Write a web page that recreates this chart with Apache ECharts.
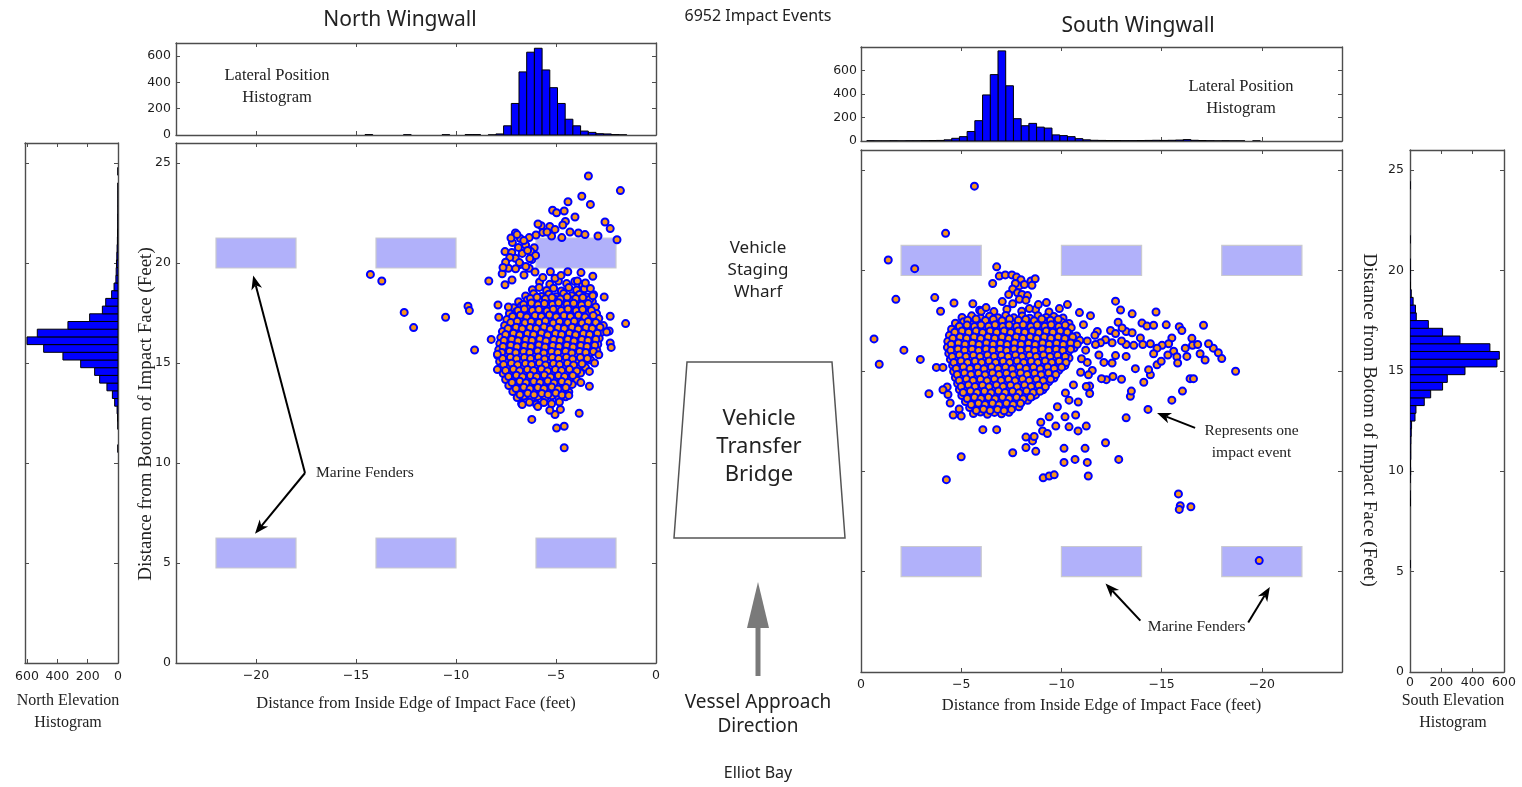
<!DOCTYPE html>
<html>
<head>
<meta charset="utf-8">
<script src="https://cdn.jsdelivr.net/npm/echarts@6/dist/echarts.min.js"></script>
<style>
html,body{margin:0;padding:0;background:#fff;}
#chart{width:1522px;height:787px;}
</style>
</head>
<body>
<div id="chart"></div>
<script>
// ---------- histogram bins (feet) and counts ----------
const binW = 0.385;
const northLatStart = -14.55;
const northLatCounts = [3,0,0,0,0,2,0,0,0,0,2,0,0,3,3,0,1,8,70,240,480,630,660,495,360,240,120,70,30,20,10,8,3,1];
const northElevStart = 10.53;
const northElevCounts = [1,0,0,1,3,6,22,37,73,121,154,246,363,490,600,532,330,187,103,81,42,26,14,12,10,8,6,4,3,2,2,1,1,1,1,0,1];
const southLatStart = -20.31;
const southLatCounts = [0,1,0,1,1,2,1,2,4,6,12,8,6,5,6,5,4,3,3,4,4,5,6,10,20,37,46,52,110,118,150,130,190,470,767,565,392,173,81,37,23,10,5,4,3,2,2,1,2,1,1,2];
const southElevStart = 5.185;
const southElevCounts = [1,0,0,0,0,0,0,0,3,1,0,1,4,3,5,5,6,8,10,32,38,91,132,208,238,351,555,570,510,319,208,117,40,35,20,8,3,1,2,1,0,0,1,0,0,0,0,0,0,1];

// ---------- fender outlines [x0, x1, y0, y1] ----------
const northFenders = [[-22,-18,19.75,21.25],[-14,-10,19.75,21.25],[-6,-2,19.75,21.25],[-22,-18,4.75,6.25],[-14,-10,4.75,6.25],[-6,-2,4.75,6.25]];
const southFenders = [[-2,-6,19.75,21.25],[-10,-14,19.75,21.25],[-18,-22,19.75,21.25],[-2,-6,4.75,6.25],[-10,-14,4.75,6.25],[-18,-22,4.75,6.25]];

// ---------- impact events, north wingwall [lateral ft, elevation ft] ----------
const northCore = [
[-5.82,19.05],[-5.31,18.94],[-4.88,19.1],[-4.47,18.97],[-4.06,19.08],[-3.68,18.92],
[-6.18,18.66],[-5.84,18.78],[-5.47,18.63],[-5.12,18.74],[-4.73,18.6],[-4.36,18.77],[-3.97,18.65],[-3.58,18.71],
[-6.52,18.35],[-6.12,18.46],[-5.73,18.33],[-5.36,18.44],[-4.98,18.31],[-4.62,18.47],[-4.21,18.36],[-3.83,18.43],[-3.47,18.3],[-3.12,18.41],
[-6.87,18.06],[-6.43,18.15],[-6.08,18.02],[-5.77,18.13],[-5.38,18.04],[-5.03,18.17],[-4.66,18.05],[-4.28,18.12],[-3.92,18.0],[-3.57,18.14],[-3.18,18.06],
[-7.12,17.76],[-6.74,17.85],[-6.38,17.72],[-6.02,17.83],[-5.66,17.74],[-5.28,17.86],[-4.93,17.75],[-4.57,17.82],[-4.18,17.71],[-3.84,17.84],[-3.46,17.77],[-3.02,17.8],
[-7.33,17.48],[-6.98,17.56],[-6.62,17.43],[-6.24,17.52],[-5.88,17.45],[-5.53,17.57],[-5.17,17.44],[-4.79,17.53],[-4.44,17.46],[-4.08,17.58],[-3.72,17.45],[-3.34,17.54],[-2.97,17.47],
[-7.46,17.17],[-7.08,17.24],[-6.76,17.13],[-6.38,17.22],[-6.04,17.15],[-5.69,17.26],[-5.33,17.12],[-4.98,17.21],[-4.62,17.16],[-4.24,17.25],[-3.89,17.11],[-3.56,17.22],[-3.18,17.14],[-2.86,17.23],
[-7.57,16.88],[-7.19,16.95],[-6.84,16.84],[-6.51,16.93],[-6.13,16.86],[-5.79,16.97],[-5.44,16.83],[-5.08,16.94],[-4.74,16.87],[-4.38,16.96],[-4.03,16.85],[-3.71,16.92],[-3.32,16.84],[-2.96,16.95],[-2.63,16.87],
[-7.68,16.57],[-7.34,16.65],[-6.98,16.54],[-6.62,16.63],[-6.26,16.56],[-5.91,16.66],[-5.54,16.53],[-5.21,16.62],[-4.84,16.55],[-4.49,16.64],[-4.13,16.52],[-3.79,16.61],[-3.44,16.57],[-3.08,16.66],[-2.74,16.54],
[-7.76,16.27],[-7.42,16.35],[-7.04,16.24],[-6.71,16.33],[-6.33,16.26],[-5.99,16.36],[-5.64,16.23],[-5.28,16.32],[-4.96,16.25],[-4.58,16.34],[-4.24,16.22],[-3.88,16.31],[-3.54,16.27],[-3.19,16.36],[-2.84,16.24],
[-7.81,15.97],[-7.46,16.05],[-7.09,15.94],[-6.76,16.03],[-6.41,15.96],[-6.04,16.06],[-5.71,15.93],[-5.34,16.02],[-5.01,15.95],[-4.64,16.04],[-4.31,15.92],[-3.94,16.01],[-3.61,15.97],[-3.24,16.06],[-2.91,15.94],
[-7.86,15.67],[-7.51,15.75],[-7.14,15.64],[-6.79,15.73],[-6.44,15.66],[-6.11,15.76],[-5.74,15.63],[-5.41,15.72],[-5.04,15.65],[-4.71,15.74],[-4.34,15.62],[-4.01,15.71],[-3.64,15.67],[-3.31,15.76],[-2.96,15.64],
[-7.91,15.37],[-7.54,15.45],[-7.21,15.34],[-6.84,15.43],[-6.51,15.36],[-6.14,15.46],[-5.81,15.33],[-5.44,15.42],[-5.11,15.35],[-4.74,15.44],[-4.41,15.32],[-4.04,15.41],[-3.71,15.37],[-3.36,15.45],
[-7.82,15.07],[-7.44,15.15],[-7.11,15.04],[-6.74,15.13],[-6.41,15.06],[-6.04,15.16],[-5.71,15.03],[-5.34,15.12],[-5.01,15.05],[-4.64,15.14],[-4.31,15.02],[-3.94,15.11],[-3.61,15.07],[-3.27,15.15],
[-7.76,14.77],[-7.39,14.85],[-7.06,14.74],[-6.69,14.83],[-6.36,14.76],[-5.99,14.86],[-5.66,14.73],[-5.29,14.82],[-4.96,14.75],[-4.59,14.84],[-4.26,14.72],[-3.89,14.81],[-3.52,14.77],
[-7.64,14.47],[-7.31,14.55],[-6.94,14.44],[-6.61,14.53],[-6.24,14.46],[-5.91,14.56],[-5.54,14.43],[-5.21,14.52],[-4.84,14.45],[-4.51,14.54],[-4.14,14.42],[-3.77,14.5],
[-7.52,14.17],[-7.14,14.25],[-6.81,14.14],[-6.44,14.23],[-6.11,14.16],[-5.74,14.26],[-5.41,14.13],[-5.04,14.22],[-4.71,14.15],[-4.34,14.24],[-3.96,14.14],
[-7.36,13.87],[-6.99,13.95],[-6.66,13.84],[-6.29,13.93],[-5.96,13.86],[-5.59,13.96],[-5.26,13.83],[-4.89,13.92],[-4.56,13.85],[-4.19,13.93],
[-7.16,13.57],[-6.79,13.65],[-6.46,13.54],[-6.09,13.63],[-5.76,13.56],[-5.39,13.66],[-5.06,13.53],[-4.69,13.62],[-4.36,13.55],
[-6.94,13.27],[-6.61,13.35],[-6.24,13.24],[-5.91,13.33],[-5.54,13.26],[-5.21,13.36],[-4.86,13.23],[-4.52,13.31],
[-6.72,12.97],[-6.33,13.04],[-5.98,12.94],[-5.61,13.02],[-5.22,12.96],[-4.83,13.05]
];
// denser centre of the north cluster
const northInner = [
[-6.28,18.22],[-5.95,18.29],[-5.53,18.21],[-5.2,18.27],[-4.78,18.2],[-4.44,18.3],[-4.01,18.23],[-3.66,18.28],[-3.31,18.19],
[-6.62,17.93],[-6.23,18.0],[-5.9,17.91],[-5.58,17.98],[-5.18,17.92],[-4.87,18.01],[-4.45,17.94],[-4.12,17.99],[-3.72,17.9],[-3.39,17.97],
[-6.9,17.62],[-6.58,17.7],[-6.18,17.63],[-5.86,17.68],[-5.45,17.6],[-5.14,17.69],[-4.74,17.62],[-4.4,17.7],[-3.99,17.61],[-3.67,17.68],[-3.23,17.63],
[-7.17,17.33],[-6.78,17.39],[-6.46,17.3],[-6.05,17.37],[-5.73,17.32],[-5.33,17.4],[-4.99,17.31],[-4.6,17.38],[-4.28,17.33],[-3.88,17.39],[-3.55,17.3],[-3.14,17.37],
[-7.26,17.02],[-6.94,17.09],[-6.55,17.01],[-6.24,17.08],[-5.85,17.03],[-5.53,17.1],[-5.14,17.0],[-4.82,17.07],[-4.41,17.02],[-4.09,17.09],[-3.7,17.0],[-3.39,17.08],[-3.01,17.03],
[-7.4,16.72],[-7.0,16.79],[-6.69,16.71],[-6.3,16.78],[-5.99,16.73],[-5.6,16.8],[-5.29,16.7],[-4.9,16.77],[-4.59,16.72],[-4.2,16.79],[-3.89,16.7],[-3.5,16.78],[-3.19,16.73],[-2.8,16.79],
[-7.52,16.42],[-7.13,16.49],[-6.82,16.4],[-6.43,16.47],[-6.12,16.43],[-5.73,16.5],[-5.42,16.4],[-5.03,16.48],[-4.72,16.42],[-4.33,16.49],[-4.02,16.41],[-3.63,16.47],[-3.32,16.43],[-2.93,16.49],
[-7.6,16.12],[-7.21,16.19],[-6.9,16.11],[-6.51,16.18],[-6.2,16.13],[-5.81,16.2],[-5.5,16.1],[-5.11,16.17],[-4.8,16.12],[-4.41,16.19],[-4.1,16.1],[-3.71,16.18],[-3.4,16.13],[-3.01,16.19],
[-7.65,15.82],[-7.26,15.89],[-6.95,15.81],[-6.56,15.88],[-6.25,15.83],[-5.86,15.9],[-5.55,15.8],[-5.16,15.87],[-4.85,15.82],[-4.46,15.89],[-4.15,15.8],[-3.76,15.88],[-3.45,15.83],[-3.06,15.89],
[-7.71,15.52],[-7.32,15.59],[-7.01,15.51],[-6.62,15.58],[-6.31,15.53],[-5.92,15.6],[-5.61,15.5],[-5.22,15.57],[-4.91,15.52],[-4.52,15.59],[-4.21,15.5],[-3.82,15.58],[-3.51,15.53],[-3.13,15.58],
[-7.67,15.22],[-7.28,15.29],[-6.97,15.21],[-6.58,15.28],[-6.27,15.23],[-5.88,15.3],[-5.57,15.2],[-5.18,15.27],[-4.87,15.22],[-4.48,15.29],[-4.17,15.2],[-3.78,15.28],[-3.43,15.23],
[-7.62,14.92],[-7.23,14.99],[-6.92,14.91],[-6.53,14.98],[-6.22,14.93],[-5.83,15.0],[-5.52,14.9],[-5.13,14.97],[-4.82,14.92],[-4.43,14.99],[-4.12,14.9],[-3.7,14.96],
[-7.52,14.62],[-7.13,14.69],[-6.82,14.61],[-6.43,14.68],[-6.12,14.63],[-5.73,14.7],[-5.42,14.6],[-5.03,14.67],[-4.72,14.62],[-4.33,14.69],[-3.96,14.6],
[-7.37,14.32],[-6.98,14.39],[-6.67,14.31],[-6.28,14.38],[-5.97,14.33],[-5.58,14.4],[-5.27,14.3],[-4.88,14.37],[-4.57,14.32],[-4.16,14.38],
[-7.2,14.02],[-6.81,14.09],[-6.5,14.01],[-6.11,14.08],[-5.8,14.03],[-5.41,14.1],[-5.1,14.0],[-4.71,14.07],[-4.4,14.02],
[-7.0,13.72],[-6.61,13.79],[-6.3,13.71],[-5.91,13.78],[-5.6,13.73],[-5.21,13.8],[-4.9,13.7],[-4.51,13.77],
[-6.8,13.42],[-6.41,13.49],[-6.1,13.41],[-5.71,13.48],[-5.4,13.43],[-5.01,13.5],[-4.7,13.4]
];
const northSparse = [
[-3.38,24.35],[-1.78,23.62],[-3.71,23.34],[-3.28,22.93],[-4.40,23.06],[-5.17,22.64],[-4.97,22.51],[-4.59,22.6],[-4.53,22.08],[-4.66,21.9],
[-2.55,22.05],[-2.29,21.72],[-3.88,21.5],[-1.95,21.16],[-5.31,21.83],[-5.74,21.86],[-5.66,21.53],[-6.0,21.4],[-5.22,21.35],[-4.71,21.27],
[-6.34,21.27],[-6.78,21.22],[-7.03,21.5],[-6.52,20.9],[-6.09,20.76],[-7.55,20.57],[-7.21,20.53],[-7.03,20.24],[-6.69,20.48],[-6.26,20.57],
[-6.21,20.17],[-7.38,19.74],[-6.78,19.93],[-6.34,19.74],[-7.69,19.46],[-7.55,18.91],[-8.36,19.1],[-5.28,19.56],[-4.41,19.56],[-5.66,19.28],
[-5.05,19.24],[-3.16,19.34],[-3.53,19.0],[-3.93,19.1],[-3.28,18.73],[-3.16,18.36],[-2.59,18.3],[-7.38,17.8],[-7.9,17.9],[-7.86,17.29],
[-2.29,17.34],[-2.34,16.6],[-1.52,16.97],[-2.47,16.55],[-2.29,16.0],[-2.24,15.78],[-2.86,15.41],[-3.07,15.0],[-3.33,14.58],[-3.33,13.84],
[-3.76,14.02],[-8.24,16.18],[-7.93,15.44],[-7.93,14.67],[-9.07,15.65],[-9.4,17.84],[-9.33,17.62],[-10.52,17.29],[-12.59,17.53],[-12.12,16.77],
[-13.71,19.1],[-14.28,19.43],[-6.21,12.18],[-4.97,11.75],[-4.59,11.84],[-4.59,10.76],[-3.84,12.49],[-5.05,12.42],[-4.78,12.68],[-5.31,12.64],
[-6.69,12.92],[-5.91,12.82],[-4.36,13.38],
[-7.18,21.02],[-6.88,20.78],[-6.61,21.12],[-6.42,20.63],[-6.02,20.38],[-7.31,20.28],[-6.83,20.02],[-7.02,19.71],[-6.51,19.83],[-7.52,20.04],
[-6.31,20.22],[-7.25,21.25],[-6.95,21.42],[-5.45,21.55],[-5.9,21.95],[-5.05,21.68],[-4.3,21.55],[-3.55,21.42],[-2.9,21.35],[-4.05,22.3],
[-7.65,19.78],[-6.05,19.55],[-6.6,19.4],[-7.2,19.15],[-4.75,19.38],[-3.75,19.52]
];

// ---------- impact events, south wingwall ----------
const southCore = [
[-5.92,18.02],[-6.63,17.95],[-7.28,18.07],[-8.02,17.97],[-8.71,18.05],[-9.38,17.93],
[-5.04,17.66],[-5.52,17.74],[-5.97,17.63],[-6.41,17.72],[-6.83,17.65],[-7.22,17.76],[-7.63,17.64],[-8.04,17.73],[-8.42,17.62],[-8.83,17.75],[-9.24,17.66],[-9.62,17.71],[-10.08,17.63],
[-4.71,17.37],[-5.12,17.45],[-5.47,17.34],[-5.82,17.43],[-6.16,17.36],[-6.52,17.46],[-6.87,17.33],[-7.21,17.42],[-7.56,17.35],[-7.92,17.44],[-8.26,17.32],[-8.61,17.41],[-8.97,17.37],[-9.32,17.46],[-9.66,17.34],[-10.02,17.43],[-10.38,17.36],
[-4.52,17.07],[-4.86,17.15],[-5.21,17.04],[-5.57,17.13],[-5.91,17.06],[-6.26,17.16],[-6.61,17.03],[-6.96,17.12],[-7.31,17.05],[-7.66,17.14],[-8.01,17.02],[-8.36,17.11],[-8.71,17.07],[-9.06,17.16],[-9.41,17.04],[-9.76,17.13],[-10.12,17.06],[-10.49,17.15],
[-4.41,16.77],[-4.76,16.85],[-5.11,16.74],[-5.46,16.83],[-5.81,16.76],[-6.16,16.86],[-6.51,16.73],[-6.86,16.82],[-7.21,16.75],[-7.56,16.84],[-7.91,16.72],[-8.26,16.81],[-8.61,16.77],[-8.96,16.86],[-9.31,16.74],[-9.66,16.83],[-10.01,16.76],[-10.38,16.85],[-10.76,16.74],
[-4.33,16.47],[-4.68,16.55],[-5.03,16.44],[-5.38,16.53],[-5.73,16.46],[-6.08,16.56],[-6.43,16.43],[-6.78,16.52],[-7.13,16.45],[-7.48,16.54],[-7.83,16.42],[-8.18,16.51],[-8.53,16.47],[-8.88,16.56],[-9.23,16.44],[-9.58,16.53],[-9.93,16.46],[-10.28,16.55],[-10.64,16.44],[-10.92,16.52],
[-4.31,16.17],[-4.66,16.25],[-5.01,16.14],[-5.36,16.23],[-5.71,16.16],[-6.06,16.26],[-6.41,16.13],[-6.76,16.22],[-7.11,16.15],[-7.46,16.24],[-7.81,16.12],[-8.16,16.21],[-8.51,16.17],[-8.86,16.26],[-9.21,16.14],[-9.56,16.23],[-9.91,16.16],[-10.26,16.25],[-10.63,16.14],
[-4.38,15.87],[-4.73,15.95],[-5.08,15.84],[-5.43,15.93],[-5.78,15.86],[-6.13,15.96],[-6.48,15.83],[-6.83,15.92],[-7.18,15.85],[-7.53,15.94],[-7.88,15.82],[-8.23,15.91],[-8.58,15.87],[-8.93,15.96],[-9.28,15.84],[-9.63,15.93],[-9.98,15.86],[-10.34,15.95],
[-4.46,15.57],[-4.81,15.65],[-5.16,15.54],[-5.51,15.63],[-5.86,15.56],[-6.21,15.66],[-6.56,15.53],[-6.91,15.62],[-7.26,15.55],[-7.61,15.64],[-7.96,15.52],[-8.31,15.61],[-8.66,15.57],[-9.01,15.66],[-9.36,15.54],[-9.71,15.63],[-10.06,15.56],[-10.38,15.64],
[-4.57,15.27],[-4.92,15.35],[-5.27,15.24],[-5.62,15.33],[-5.97,15.26],[-6.32,15.36],[-6.67,15.23],[-7.02,15.32],[-7.37,15.25],[-7.72,15.34],[-8.07,15.22],[-8.42,15.31],[-8.77,15.27],[-9.12,15.36],[-9.47,15.24],[-9.82,15.33],[-10.17,15.26],
[-4.62,14.97],[-4.97,15.05],[-5.32,14.94],[-5.67,15.03],[-6.02,14.96],[-6.37,15.06],[-6.72,14.93],[-7.07,15.02],[-7.42,14.95],[-7.77,15.04],[-8.12,14.92],[-8.47,15.01],[-8.82,14.97],[-9.17,15.06],[-9.52,14.94],[-9.87,15.03],
[-4.71,14.67],[-5.06,14.75],[-5.41,14.64],[-5.76,14.73],[-6.11,14.66],[-6.46,14.76],[-6.81,14.63],[-7.16,14.72],[-7.51,14.65],[-7.86,14.74],[-8.21,14.62],[-8.56,14.71],[-8.91,14.67],[-9.26,14.76],[-9.63,14.64],
[-4.82,14.37],[-5.17,14.45],[-5.52,14.34],[-5.87,14.43],[-6.22,14.36],[-6.57,14.46],[-6.92,14.33],[-7.27,14.42],[-7.62,14.35],[-7.97,14.44],[-8.32,14.32],[-8.67,14.41],[-9.02,14.37],[-9.36,14.45],
[-4.91,14.07],[-5.26,14.15],[-5.61,14.04],[-5.96,14.13],[-6.31,14.06],[-6.66,14.16],[-7.01,14.03],[-7.36,14.12],[-7.71,14.05],[-8.06,14.14],[-8.41,14.02],[-8.76,14.11],[-9.08,14.06],
[-5.03,13.77],[-5.38,13.85],[-5.73,13.74],[-6.08,13.83],[-6.43,13.76],[-6.78,13.86],[-7.13,13.73],[-7.48,13.82],[-7.83,13.75],[-8.18,13.84],[-8.53,13.72],[-8.71,13.8],
[-5.21,13.47],[-5.56,13.55],[-5.91,13.44],[-6.26,13.53],[-6.61,13.46],[-6.96,13.56],[-7.31,13.43],[-7.66,13.52],[-8.01,13.45],[-8.32,13.53],
[-5.42,13.17],[-5.77,13.25],[-6.12,13.14],[-6.47,13.23],[-6.82,13.16],[-7.17,13.26],[-7.52,13.13],[-7.88,13.21],
[-5.61,12.87],[-5.96,12.95],[-6.31,12.84],[-6.66,12.93],[-7.01,12.86],[-7.38,12.94],
[-4.6,12.8],[-4.9,13.1],[-5.0,12.75],[-4.45,13.4],[-4.3,14.2]
];
// denser centre of the south cluster
const southInner = [
[-5.32,17.52],[-5.74,17.58],[-6.21,17.51],[-6.6,17.57],[-7.04,17.5],[-7.41,17.58],[-7.85,17.52],[-8.22,17.57],[-8.64,17.5],[-9.02,17.58],[-9.45,17.52],[-9.84,17.57],
[-4.91,17.22],[-5.29,17.28],[-5.66,17.21],[-5.99,17.28],[-6.37,17.22],[-6.69,17.29],[-7.07,17.21],[-7.39,17.28],[-7.77,17.22],[-8.09,17.29],[-8.47,17.21],[-8.79,17.28],[-9.17,17.22],[-9.49,17.29],[-9.87,17.21],[-10.19,17.28],
[-4.68,16.92],[-5.04,16.99],[-5.37,16.92],[-5.74,16.98],[-6.07,16.91],[-6.44,16.99],[-6.77,16.92],[-7.14,16.98],[-7.47,16.91],[-7.84,16.99],[-8.17,16.92],[-8.54,16.98],[-8.87,16.91],[-9.24,16.99],[-9.57,16.92],[-9.94,16.98],[-10.29,16.92],
[-4.58,16.62],[-4.94,16.69],[-5.27,16.62],[-5.64,16.68],[-5.97,16.61],[-6.34,16.69],[-6.67,16.62],[-7.04,16.68],[-7.37,16.61],[-7.74,16.69],[-8.07,16.62],[-8.44,16.68],[-8.77,16.61],[-9.14,16.69],[-9.47,16.62],[-9.84,16.68],[-10.17,16.61],[-10.56,16.68],
[-4.5,16.32],[-4.86,16.39],[-5.19,16.32],[-5.56,16.38],[-5.89,16.31],[-6.26,16.39],[-6.59,16.32],[-6.96,16.38],[-7.29,16.31],[-7.66,16.39],[-7.99,16.32],[-8.36,16.38],[-8.69,16.31],[-9.06,16.39],[-9.39,16.32],[-9.76,16.38],[-10.09,16.31],[-10.46,16.39],[-10.79,16.32],
[-4.48,16.02],[-4.84,16.09],[-5.17,16.02],[-5.54,16.08],[-5.87,16.01],[-6.24,16.09],[-6.57,16.02],[-6.94,16.08],[-7.27,16.01],[-7.64,16.09],[-7.97,16.02],[-8.34,16.08],[-8.67,16.01],[-9.04,16.09],[-9.37,16.02],[-9.74,16.08],[-10.07,16.01],[-10.46,16.08],
[-4.55,15.72],[-4.91,15.79],[-5.24,15.72],[-5.61,15.78],[-5.94,15.71],[-6.31,15.79],[-6.64,15.72],[-7.01,15.78],[-7.34,15.71],[-7.71,15.79],[-8.04,15.72],[-8.41,15.78],[-8.74,15.71],[-9.11,15.79],[-9.44,15.72],[-9.81,15.78],[-10.19,15.71],
[-4.63,15.42],[-4.99,15.49],[-5.32,15.42],[-5.69,15.48],[-6.02,15.41],[-6.39,15.49],[-6.72,15.42],[-7.09,15.48],[-7.42,15.41],[-7.79,15.49],[-8.12,15.42],[-8.49,15.48],[-8.82,15.41],[-9.19,15.49],[-9.52,15.42],[-9.89,15.48],[-10.23,15.41],
[-4.75,15.12],[-5.11,15.19],[-5.44,15.12],[-5.81,15.18],[-6.14,15.11],[-6.51,15.19],[-6.84,15.12],[-7.21,15.18],[-7.54,15.11],[-7.91,15.19],[-8.24,15.12],[-8.61,15.18],[-8.94,15.11],[-9.31,15.19],[-9.64,15.12],[-10.01,15.18],
[-4.8,14.82],[-5.16,14.89],[-5.49,14.82],[-5.86,14.88],[-6.19,14.81],[-6.56,14.89],[-6.89,14.82],[-7.26,14.88],[-7.59,14.81],[-7.96,14.89],[-8.29,14.82],[-8.66,14.88],[-8.99,14.81],[-9.36,14.89],[-9.72,14.82],
[-4.9,14.52],[-5.26,14.59],[-5.59,14.52],[-5.96,14.58],[-6.29,14.51],[-6.66,14.59],[-6.99,14.52],[-7.36,14.58],[-7.69,14.51],[-8.06,14.59],[-8.39,14.52],[-8.76,14.58],[-9.09,14.51],[-9.46,14.58],
[-5.0,14.22],[-5.36,14.29],[-5.69,14.22],[-6.06,14.28],[-6.39,14.21],[-6.76,14.29],[-7.09,14.22],[-7.46,14.28],[-7.79,14.21],[-8.16,14.29],[-8.49,14.22],[-8.86,14.28],[-9.2,14.21],
[-5.1,13.92],[-5.46,13.99],[-5.79,13.92],[-6.16,13.98],[-6.49,13.91],[-6.86,13.99],[-7.19,13.92],[-7.56,13.98],[-7.89,13.91],[-8.26,13.99],[-8.59,13.92],[-8.93,13.98],
[-5.3,13.62],[-5.66,13.69],[-5.99,13.62],[-6.36,13.68],[-6.69,13.61],[-7.06,13.69],[-7.39,13.62],[-7.76,13.68],[-8.09,13.61],[-8.46,13.68],
[-5.5,13.32],[-5.86,13.39],[-6.19,13.32],[-6.56,13.38],[-6.89,13.31],[-7.26,13.39],[-7.59,13.32],[-7.96,13.38],
[-5.75,13.02],[-6.11,13.09],[-6.44,13.02],[-6.81,13.08],[-7.14,13.01],[-7.51,13.08]
];
const southSparse = [
[-5.66,24.2],[-4.22,21.85],[-1.36,20.52],[-2.68,20.09],[-1.74,18.56],[-0.65,16.59],[-0.91,15.33],[-2.14,16.03],[-2.96,15.57],[-3.39,13.86],
[-3.68,18.65],[-3.97,17.97],[-4.64,18.38],[-3.76,15.17],[-4.09,15.17],[-4.09,14.06],[-4.34,13.82],[-5.0,10.72],[-4.26,9.58],[-6.08,12.07],
[-6.77,12.07],[-7.57,10.92],[-8.23,11.18],[-8.23,11.7],[-8.56,11.51],[-8.72,10.99],[-8.64,11.73],[-9.09,9.67],[-9.39,9.76],[-9.64,9.82],
[-9.06,12.01],[-9.3,11.88],[-9.72,12.25],[-10.13,11.14],[-10.13,10.44],[-10.68,10.59],[-11.18,11.14],[-11.29,10.44],[-11.34,9.76],[-11.24,12.25],
[-10.83,12.01],[-10.18,12.71],[-10.38,12.21],[-9.8,13.21],[-9.39,12.71],[-8.97,12.44],[-12.2,11.42],[-12.86,10.59],[-13.23,12.66],[-14.32,13.08],
[-13.44,13.73],[-13.49,13.99],[-14.11,14.43],[-14.44,14.8],[-15.51,13.54],[-16.04,13.99],[-16.42,14.61],[-16.59,14.61],[-18.69,14.98],[-15.84,8.87],
[-15.93,8.28],[-15.88,8.1],[-16.46,8.23],[-19.87,5.55],[-12.24,14.56],[-12.57,14.72],[-13.0,14.58],[-12.0,14.61],[-11.41,13.87],[-11.41,14.24],
[-11.24,14.22],[-10.84,13.45],[-10.71,12.8],[-10.38,13.54],
[-12.7,18.47],[-12.95,18.03],[-13.53,17.84],[-12.83,17.42],[-13.23,16.96],[-13.53,16.9],[-14.02,17.38],[-14.27,17.23],[-14.6,17.27],[-14.72,17.93],
[-15.23,17.29],[-15.88,17.2],[-16.01,17.01],[-17.09,17.27],[-16.51,16.62],[-15.51,16.64],[-15.35,16.35],[-15.02,16.27],[-14.77,16.13],[-14.44,16.35],
[-13.94,16.64],[-13.61,16.27],[-13.23,16.31],[-13.0,16.49],[-12.53,16.4],[-12.2,16.55],[-11.95,16.4],[-11.79,16.96],[-11.67,16.77],[-11.29,16.49],
[-11.7,16.31],[-15.6,15.98],[-15.31,15.79],[-15.76,15.7],[-16.26,15.72],[-16.54,16.27],[-16.8,16.31],[-16.92,15.85],[-17.17,15.54],[-17.58,16.13],
[-17.83,15.9],[-18.0,15.61],[-17.34,16.35],[-16.18,16.13],[-15.8,15.39],[-14.77,15.3],[-14.35,15.06],[-13.69,15.11],[-13.23,15.72],[-12.7,15.76],
[-12.12,15.42],[-11.87,15.79],[-11.54,15.02],[-10.96,14.93],[-11.29,15.42],[-11.21,16.03],[-12.53,15.39],[-14.98,15.48],[-14.6,15.85],[-14.06,16.31],
[-13.03,17.14],[-12.45,17.01],[-12.7,16.86],[-11.1,17.3],[-11.45,17.75],[-10.9,17.9],[-11.0,15.6],[-11.35,14.8],[-10.6,14.3],[-10.2,13.9],
[-6.77,20.18],[-6.9,19.72],[-7.2,19.78],[-7.53,19.78],[-7.76,19.67],[-7.98,19.54],[-8.48,19.48],[-8.69,19.59],[-8.53,19.26],[-7.9,19.23],
[-8.15,19.3],[-7.7,19.35],[-7.57,19.08],[-7.81,18.89],[-8.03,18.8],[-8.31,18.75],[-7.37,18.8],[-7.9,18.56],[-8.23,18.52],[-7.57,18.34],
[-6.57,19.35],[-5.58,18.34],[-6.0,17.97],[-6.24,18.15],[-8.85,18.3],[-9.25,18.4],[-9.9,18.1],[-10.3,18.3],[-7.05,18.45],[-8.4,18.1]
];

// ---------- annotation anchors (data units) ----------
const northArrows = [[-17.55,9.5,-20.14,19.37],[-17.55,9.5,-20.05,6.46]];
const northNotes = [{text:'Marine Fenders', x:-17.0, y:9.5, align:'left'}];
const southArrows = [[-16.67,12.16,-14.77,12.9],[-13.94,2.56,-12.2,4.41],[-19.32,2.47,-20.4,4.23]];
const southNotes = [
  {text:'Represents one', x:-19.49, y:12.0, align:'center'},
  {text:'impact event', x:-19.49, y:10.93, align:'center'},
  {text:'Marine Fenders', x:-16.75, y:2.25, align:'center'}
];

// tick positions
const lateralTicks = [-20,-15,-10,-5,0];
const elevTicks = [0,5,10,15,20,25];
const countTicks = [0,200,400,600];

// ---------- helpers ----------
const AX = '#4d4d4d';
const SERIF = '"Liberation Serif","DejaVu Serif",serif';
const SANS = '"Noto Sans","Open Sans","DejaVu Sans",sans-serif';
const minus = v => String(v).replace('-', '\u2212');

function axis(gridIndex, position, min, max, extra) {
  return Object.assign({
    type: 'value', gridIndex, position, min, max,
    axisLine: {show: true, onZero: false, lineStyle: {color: AX, width: 1.4}},
    axisTick: {show: true, inside: true, length: 4, lineStyle: {color: AX, width: 1}},
    axisLabel: {show: false},
    splitLine: {show: false}
  }, extra || {});
}
function ticks(values) {
  return {show: true, inside: true, length: 4, customValues: values, lineStyle: {color: AX, width: 1}};
}
function labels(values, margin) {
  return {show: true, customValues: values, margin, formatter: minus,
          fontFamily: 'DejaVu Sans', fontSize: 12.5, color: '#1e1e1e'};
}
function bins(start, counts) {
  return counts.map((c, i) => [start + i * binW, start + (i + 1) * binW, c]).filter(d => d[2] > 0);
}
const BAR = {fill: '#0000ff', stroke: '#000', lineWidth: 1};
function vbar(params, api) {
  const a = api.coord([api.value(0), 0]);
  const b = api.coord([api.value(1), api.value(2)]);
  return {type: 'rect', shape: {x: Math.min(a[0], b[0]), y: Math.min(a[1], b[1]),
    width: Math.abs(b[0] - a[0]), height: Math.abs(b[1] - a[1])}, style: BAR};
}
function hbar(params, api) {
  const a = api.coord([0, api.value(0)]);
  const b = api.coord([api.value(2), api.value(1)]);
  return {type: 'rect', shape: {x: Math.min(a[0], b[0]), y: Math.min(a[1], b[1]),
    width: Math.abs(b[0] - a[0]), height: Math.abs(b[1] - a[1])}, style: BAR};
}
function fender(params, api) {
  const a = api.coord([api.value(0), api.value(2)]);
  const b = api.coord([api.value(1), api.value(3)]);
  return {type: 'rect', shape: {x: Math.min(a[0], b[0]), y: Math.min(a[1], b[1]),
    width: Math.abs(b[0] - a[0]), height: Math.abs(b[1] - a[1])},
    style: {fill: '#b1b1fa', stroke: '#c9c9cf', lineWidth: 1.2}};
}
function arrow(params, api) {
  const p = api.coord([api.value(0), api.value(1)]);
  const q = api.coord([api.value(2), api.value(3)]);
  const dx = q[0] - p[0], dy = q[1] - p[1], L = Math.hypot(dx, dy);
  const ux = dx / L, uy = dy / L, hl = 14, hw = 5.5;
  const bx = q[0] - ux * hl, by = q[1] - uy * hl;
  return {type: 'group', children: [
    {type: 'line', shape: {x1: p[0], y1: p[1], x2: bx + ux * 4, y2: by + uy * 4}, style: {stroke: '#000', lineWidth: 2}},
    {type: 'polygon', shape: {points: [[q[0], q[1]], [bx - uy * hw, by + ux * hw], [bx + ux * 4, by + uy * 4], [bx + uy * hw, by - ux * hw]]},
     style: {fill: '#000'}}
  ]};
}
function noteRenderer(notes) {
  return function (params, api) {
    const n = notes[params.dataIndex];
    const p = api.coord([api.value(0), api.value(1)]);
    return {type: 'text', x: p[0], y: p[1], style: {text: n.text, fontFamily: SERIF, fontSize: 15.5,
      fill: '#222', align: n.align, verticalAlign: 'middle'}};
  };
}
const DOT = {color: '#f7941d', borderColor: '#0000ff', borderWidth: 2, opacity: 1};

const chart = echarts.init(document.getElementById('chart'), null, {renderer: 'canvas'});

const option = {
  animation: false,
  backgroundColor: '#fff',
  grid: [
    {left: 176, top: 43, width: 480, height: 92},     // north lateral histogram
    {left: 176, top: 143, width: 480, height: 520},   // north scatter
    {left: 25, top: 143, width: 93, height: 520},     // north elevation histogram
    {left: 861, top: 47, width: 481, height: 94},     // south lateral histogram
    {left: 861, top: 150, width: 481, height: 522},   // south scatter
    {left: 1410, top: 150, width: 94, height: 522}    // south elevation histogram
  ],
  xAxis: [
    axis(0, 'bottom', -24, 0, {axisTick: ticks([-20,-15,-10,-5])}),
    axis(0, 'top', -24, 0, {axisTick: ticks([-20,-15,-10,-5])}),
    axis(1, 'bottom', -24, 0, {axisTick: ticks(lateralTicks), axisLabel: labels(lateralTicks, 6),
      name: 'Distance from Inside Edge of Impact Face (feet)', nameLocation: 'middle', nameGap: 32,
      nameTextStyle: {fontFamily: SERIF, fontSize: 16.5, color: '#222'}}),
    axis(1, 'top', -24, 0, {axisTick: ticks(lateralTicks)}),
    axis(2, 'bottom', 0, 613, {inverse: true, axisTick: ticks(countTicks), axisLabel: labels(countTicks, 7)}),
    axis(2, 'top', 0, 613, {inverse: true, axisTick: ticks(countTicks)}),
    axis(3, 'bottom', -24, 0, {inverse: true, axisTick: ticks([-20,-15,-10,-5])}),
    axis(3, 'top', -24, 0, {inverse: true, axisTick: ticks([-20,-15,-10,-5])}),
    axis(4, 'bottom', -24, 0, {inverse: true, axisTick: ticks(lateralTicks), axisLabel: labels(lateralTicks, 6),
      name: 'Distance from Inside Edge of Impact Face (feet)', nameLocation: 'middle', nameGap: 25,
      nameTextStyle: {fontFamily: SERIF, fontSize: 16.5, color: '#222'}}),
    axis(4, 'top', -24, 0, {inverse: true, axisTick: ticks(lateralTicks)}),
    axis(5, 'bottom', 0, 600, {axisTick: ticks(countTicks), axisLabel: labels(countTicks, 4)}),
    axis(5, 'top', 0, 600, {axisTick: ticks(countTicks)})
  ],
  yAxis: [
    axis(0, 'left', 0, 700, {axisTick: ticks(countTicks), axisLabel: labels(countTicks, 5)}),
    axis(0, 'right', 0, 700, {axisTick: ticks(countTicks)}),
    axis(1, 'left', 0, 26, {axisTick: ticks(elevTicks), axisLabel: labels(elevTicks, 5)}),
    axis(1, 'right', 0, 26, {axisTick: ticks(elevTicks)}),
    axis(2, 'left', 0, 26, {axisTick: ticks([5,10,15,20,25])}),
    axis(2, 'right', 0, 26, {axisTick: ticks([5,10,15,20,25])}),
    axis(3, 'left', 0, 800, {axisTick: ticks(countTicks), axisLabel: labels(countTicks, 4)}),
    axis(3, 'right', 0, 800, {axisTick: ticks(countTicks)}),
    axis(4, 'left', 0, 26, {axisTick: ticks([5,10,15,20,25])}),
    axis(4, 'right', 0, 26, {axisTick: ticks([5,10,15,20,25])}),
    axis(5, 'left', 0, 26, {axisTick: ticks(elevTicks), axisLabel: labels(elevTicks, 6)}),
    axis(5, 'right', 0, 26, {axisTick: ticks([5,10,15,20,25])})
  ],
  series: [
    {type: 'custom', name: 'North lateral', xAxisIndex: 0, yAxisIndex: 0, renderItem: vbar,
     encode: {x: [0, 1], y: 2}, data: bins(northLatStart, northLatCounts), clip: true},
    {type: 'custom', name: 'North elevation', xAxisIndex: 4, yAxisIndex: 4, renderItem: hbar,
     encode: {x: 2, y: [0, 1]}, data: bins(northElevStart, northElevCounts), clip: true},
    {type: 'custom', name: 'North fenders', xAxisIndex: 2, yAxisIndex: 2, renderItem: fender,
     encode: {x: [0, 1], y: [2, 3]}, data: northFenders, z: 1},
    {type: 'scatter', name: 'North impacts', xAxisIndex: 2, yAxisIndex: 2, symbolSize: 7,
     itemStyle: DOT, data: northCore.concat(northInner, northSparse), z: 2},
    {type: 'custom', name: 'North arrows', xAxisIndex: 2, yAxisIndex: 2, renderItem: arrow,
     encode: {x: [0, 2], y: [1, 3]}, data: northArrows, z: 3},
    {type: 'custom', name: 'North notes', xAxisIndex: 2, yAxisIndex: 2, renderItem: noteRenderer(northNotes),
     encode: {x: 0, y: 1}, data: northNotes.map(n => [n.x, n.y]), z: 3},

    {type: 'custom', name: 'South lateral', xAxisIndex: 6, yAxisIndex: 6, renderItem: vbar,
     encode: {x: [0, 1], y: 2}, data: bins(southLatStart, southLatCounts), clip: true},
    {type: 'custom', name: 'South elevation', xAxisIndex: 10, yAxisIndex: 10, renderItem: hbar,
     encode: {x: 2, y: [0, 1]}, data: bins(southElevStart, southElevCounts), clip: true},
    {type: 'custom', name: 'South fenders', xAxisIndex: 8, yAxisIndex: 8, renderItem: fender,
     encode: {x: [0, 1], y: [2, 3]}, data: southFenders, z: 1},
    {type: 'scatter', name: 'South impacts', xAxisIndex: 8, yAxisIndex: 8, symbolSize: 7,
     itemStyle: DOT, data: southCore.concat(southInner, southSparse), z: 2},
    {type: 'custom', name: 'South arrows', xAxisIndex: 8, yAxisIndex: 8, renderItem: arrow,
     encode: {x: [0, 2], y: [1, 3]}, data: southArrows, z: 3},
    {type: 'custom', name: 'South notes', xAxisIndex: 8, yAxisIndex: 8, renderItem: noteRenderer(southNotes),
     encode: {x: 0, y: 1}, data: southNotes.map(n => [n.x, n.y]), z: 3}
  ],
  graphic: [
    {type: 'text', x: 758, y: -6.5, style: {text: 'Elevation View from Water', fontFamily: SANS, fontSize: 24, fill: '#8a8a8a', align: 'center', verticalAlign: 'middle'}},
    {type: 'text', x: 758, y: 16, style: {text: '6952 Impact Events', fontFamily: SANS, fontSize: 16, fill: '#222', align: 'center', verticalAlign: 'middle'}},
    {type: 'text', x: 400, y: 20, style: {text: 'North Wingwall', fontFamily: SANS, fontSize: 21, fill: '#222', align: 'center', verticalAlign: 'middle'}},
    {type: 'text', x: 1138, y: 26, style: {text: 'South Wingwall', fontFamily: SANS, fontSize: 21, fill: '#222', align: 'center', verticalAlign: 'middle'}},
    {type: 'text', x: 146, y: 414, rotation: Math.PI / 2, style: {text: 'Distance from Botom of Impact Face (Feet)', fontFamily: SERIF, fontSize: 19, fill: '#222', align: 'center', verticalAlign: 'middle'}},
    {type: 'text', x: 1369, y: 420, rotation: -Math.PI / 2, style: {text: 'Distance from Botom of Impact Face (Feet)', fontFamily: SERIF, fontSize: 19, fill: '#222', align: 'center', verticalAlign: 'middle'}},
    {type: 'text', x: 277, y: 87, style: {text: 'Lateral Position\nHistogram', fontFamily: SERIF, fontSize: 16.5, lineHeight: 22, fill: '#222', align: 'center', verticalAlign: 'middle'}},
    {type: 'text', x: 1241, y: 98, style: {text: 'Lateral Position\nHistogram', fontFamily: SERIF, fontSize: 16.5, lineHeight: 22, fill: '#222', align: 'center', verticalAlign: 'middle'}},
    {type: 'text', x: 68, y: 712, style: {text: 'North Elevation\nHistogram', fontFamily: SERIF, fontSize: 16, lineHeight: 22, fill: '#222', align: 'center', verticalAlign: 'middle'}},
    {type: 'text', x: 1453, y: 712, style: {text: 'South Elevation\nHistogram', fontFamily: SERIF, fontSize: 16, lineHeight: 22, fill: '#222', align: 'center', verticalAlign: 'middle'}},
    {type: 'text', x: 758, y: 270, style: {text: 'Vehicle\nStaging\nWharf', fontFamily: SANS, fontSize: 17, lineHeight: 22, fill: '#222', align: 'center', verticalAlign: 'middle'}},
    {type: 'polygon', shape: {points: [[687, 362], [832, 362], [845, 538], [674, 538]]}, style: {fill: 'none', stroke: '#555', lineWidth: 1.5}},
    {type: 'text', x: 759, y: 447, style: {text: 'Vehicle\nTransfer\nBridge', fontFamily: SANS, fontSize: 22, lineHeight: 28, fill: '#222', align: 'center', verticalAlign: 'middle'}},
    {type: 'rect', shape: {x: 755.5, y: 620, width: 5, height: 56}, style: {fill: '#7a7a7a'}},
    {type: 'polygon', shape: {points: [[758, 582], [747, 628], [769, 628]]}, style: {fill: '#7a7a7a'}},
    {type: 'text', x: 758, y: 715, style: {text: 'Vessel Approach\nDirection', fontFamily: SANS, fontSize: 19, lineHeight: 24, fill: '#222', align: 'center', verticalAlign: 'middle'}},
    {type: 'text', x: 758, y: 773, style: {text: 'Elliot Bay', fontFamily: SANS, fontSize: 16, fill: '#222', align: 'center', verticalAlign: 'middle'}}
  ]
};
chart.setOption(option);
</script>
</body>
</html>
